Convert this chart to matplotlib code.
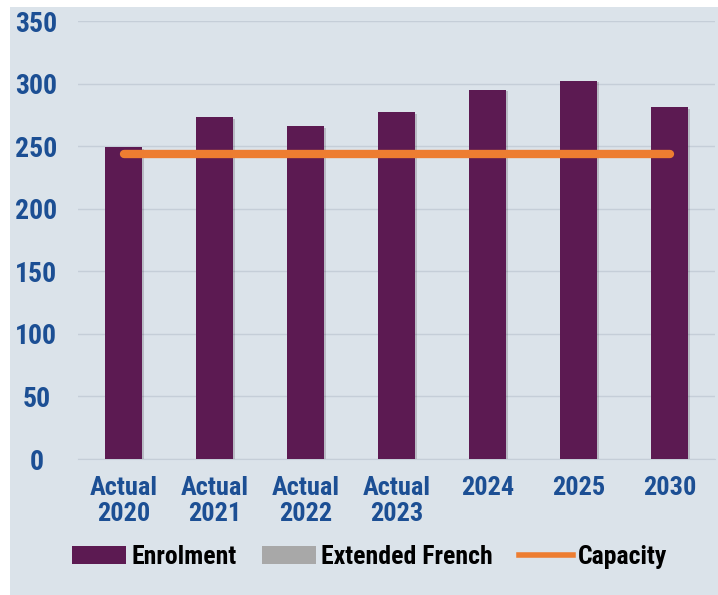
import matplotlib
matplotlib.use("Agg")
import matplotlib.pyplot as plt
from matplotlib.patches import Rectangle, Patch
from matplotlib.lines import Line2D
from matplotlib import font_manager as fm
import matplotlib.patheffects as pe

categories = ["Actual\n2020", "Actual\n2021", "Actual\n2022", "Actual\n2023", "2024", "2025", "2030"]
enrolment = [249, 273, 266, 277, 295, 302, 281]
extended_french = [0, 0, 0, 0, 0, 0, 0]
capacity = [244, 244, 244, 244, 244, 244, 244]
yticks = [0, 50, 100, 150, 200, 250, 300, 350]

names = {f.name for f in fm.fontManager.ttflist}
fam = "DejaVu Sans"
for cand in ["Roboto Condensed", "Liberation Sans Narrow", "DejaVu Sans Condensed"]:
    if cand in names:
        fam = cand
        break
plt.rcParams['font.family'] = [fam, 'DejaVu Sans']

BG = "#dbe3ea"
PURPLE = "#5c1a52"
ORANGE = "#ed7d31"
BLUE = "#1c4f94"

fig = plt.figure(figsize=(7.18, 5.95), dpi=100)
fig.patch.set_facecolor("white")
fig.patches.append(Rectangle((10/718, 0), 1, 1 - 7/595, transform=fig.transFigure,
                             facecolor=BG, edgecolor="none", zorder=-10))

ax = fig.add_axes([78/718, 136/595, (715-78)/718, (574-136)/595])
ax.set_facecolor("none")
x = list(range(len(categories)))
bars = ax.bar(x, enrolment, width=0.41, color=PURPLE, zorder=3)
for b in bars:
    b.set_path_effects([pe.SimplePatchShadow(offset=(1.5, -1), alpha=0.18), pe.Normal()])
ax.bar(x, extended_french, width=0.41, bottom=enrolment, color="#a6a6a6", zorder=3, linewidth=0)
ax.plot([x[0], x[-1]], [capacity[0], capacity[-1]], color=ORANGE, lw=6, solid_capstyle="round", zorder=4)

ax.set_xlim(-0.5, 6.5)
ax.set_ylim(0, 350)
ax.set_yticks(yticks)
ax.yaxis.grid(True, color="#c5ced8", lw=1, zorder=0)
ax.set_axisbelow(True)
for s in ["top", "right", "left"]:
    ax.spines[s].set_visible(False)
ax.spines["bottom"].set_color("#c5ced8")
ax.tick_params(length=0)
ax.set_xticks(x)
ax.set_xticklabels(categories, fontsize=19, fontweight="bold", color=BLUE, linespacing=1.1)
ax.set_yticklabels([str(v) for v in yticks], fontsize=20, fontweight="bold", color=BLUE)
ax.tick_params(axis="x", pad=12)
ax.tick_params(axis="y", pad=30)
for lbl in ax.get_yticklabels():
    lbl.set_horizontalalignment("center")

handles = [Patch(facecolor=PURPLE, label="Enrolment"),
           Patch(facecolor="#a8a8a8", label="Extended French"),
           Line2D([0], [0], color=ORANGE, lw=4, label="Capacity")]
leg = fig.legend(handles=handles, loc="center", bbox_to_anchor=(0.515, 1 - 557/595), ncol=3,
                 frameon=False, prop={"family": [fam, "DejaVu Sans"], "weight": "bold", "size": 18.5},
                 handlelength=2.1, handleheight=0.65, columnspacing=1.0, handletextpad=0.2)

fig.savefig("out.png", dpi=100, facecolor=fig.get_facecolor())
